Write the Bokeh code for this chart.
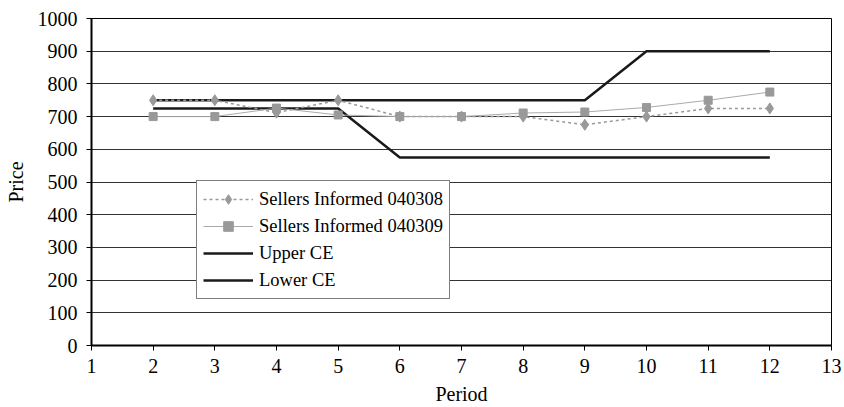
from bokeh.plotting import figure
from bokeh.models import FixedTicker, Legend, LegendItem, Range1d
from bokeh.embed import file_html
from bokeh.resources import INLINE

periods = [2, 3, 4, 5, 6, 7, 8, 9, 10, 11, 12]
s040308 = [750, 750, 712, 750, 700, 700, 700, 675, 700, 725, 725]
s040309 = [700, 700, 726, 705, 700, 700, 711, 714, 728, 750, 775]
upper_ce = [750, 750, 750, 750, 750, 750, 750, 750, 900, 900, 900]
lower_ce = [725, 725, 725, 725, 575, 575, 575, 575, 575, 575, 575]
x_ticks = [1, 2, 3, 4, 5, 6, 7, 8, 9, 10, 11, 12, 13]
y_ticks = [0, 100, 200, 300, 400, 500, 600, 700, 800, 900, 1000]

FONT = "Liberation Serif"

p = figure(width=844, height=407, output_backend="svg", toolbar_location=None,
           x_range=Range1d(1, 13), y_range=Range1d(0, 1000),
           min_border_left=91, min_border_right=13, min_border_top=18, min_border_bottom=62)

p.background_fill_color = "white"
p.border_fill_color = "white"
p.outline_line_color = "black"
p.outline_line_width = 1

p.xgrid.visible = False
p.ygrid.ticker = FixedTicker(ticks=y_ticks)
p.ygrid.grid_line_color = "#333333"
p.ygrid.grid_line_width = 1

p.xaxis.ticker = FixedTicker(ticks=x_ticks)
p.yaxis.ticker = FixedTicker(ticks=y_ticks)
for ax in (p.xaxis, p.yaxis):
    ax.axis_line_color = "black"
    ax.axis_line_width = 2
    ax.major_tick_line_color = "black"
    ax.major_tick_line_width = 1
    ax.major_tick_out = 5
    ax.major_tick_in = 0
    ax.minor_tick_line_color = None
    ax.major_label_text_font = FONT
    ax.major_label_text_font_size = "20px"
    ax.major_label_text_color = "black"
    ax.axis_label_text_font = FONT
    ax.axis_label_text_font_size = "20px"
    ax.axis_label_text_font_style = "normal"
    ax.axis_label_text_color = "black"
p.xaxis.axis_label = "Period"
p.yaxis.axis_label = "Price"
p.yaxis.major_label_standoff = 9
p.xaxis.major_label_standoff = 8
p.xaxis.axis_label_standoff = 7
p.yaxis.axis_label_standoff = 8

r_up = p.line(periods, upper_ce, line_color="#1a1a1a", line_width=2.5)
r_lo = p.line(periods, lower_ce, line_color="#1a1a1a", line_width=2.5)

r1l = p.line(periods, s040308, line_color="#999999", line_width=1.5, line_dash="3 3")
r1m = p.scatter(periods, s040308, marker="diamond", size=11, fill_color="#999999", line_color="#999999")
r2l = p.line(periods, s040309, line_color="#aaaaaa", line_width=1)
r2m = p.scatter(periods, s040309, marker="square", size=8, fill_color="#999999", line_color="#999999")

legend = Legend(items=[
    LegendItem(label="Sellers Informed 040308", renderers=[r1l, r1m]),
    LegendItem(label="Sellers Informed 040309", renderers=[r2l, r2m]),
    LegendItem(label="Upper CE", renderers=[r_up]),
    LegendItem(label="Lower CE", renderers=[r_lo]),
], location=(105, 46))
legend.label_text_font = FONT
legend.label_text_font_size = "18.5px"
legend.label_text_color = "black"
legend.glyph_width = 50
legend.glyph_height = 24
legend.label_height = 24
legend.spacing = 3
legend.padding = 6
legend.margin = 0
legend.label_standoff = 6
legend.border_line_color = "black"
legend.border_line_width = 1
legend.background_fill_color = "white"
legend.background_fill_alpha = 1
p.add_layout(legend, "center")

open("out.html", "w").write(file_html(p, INLINE))
